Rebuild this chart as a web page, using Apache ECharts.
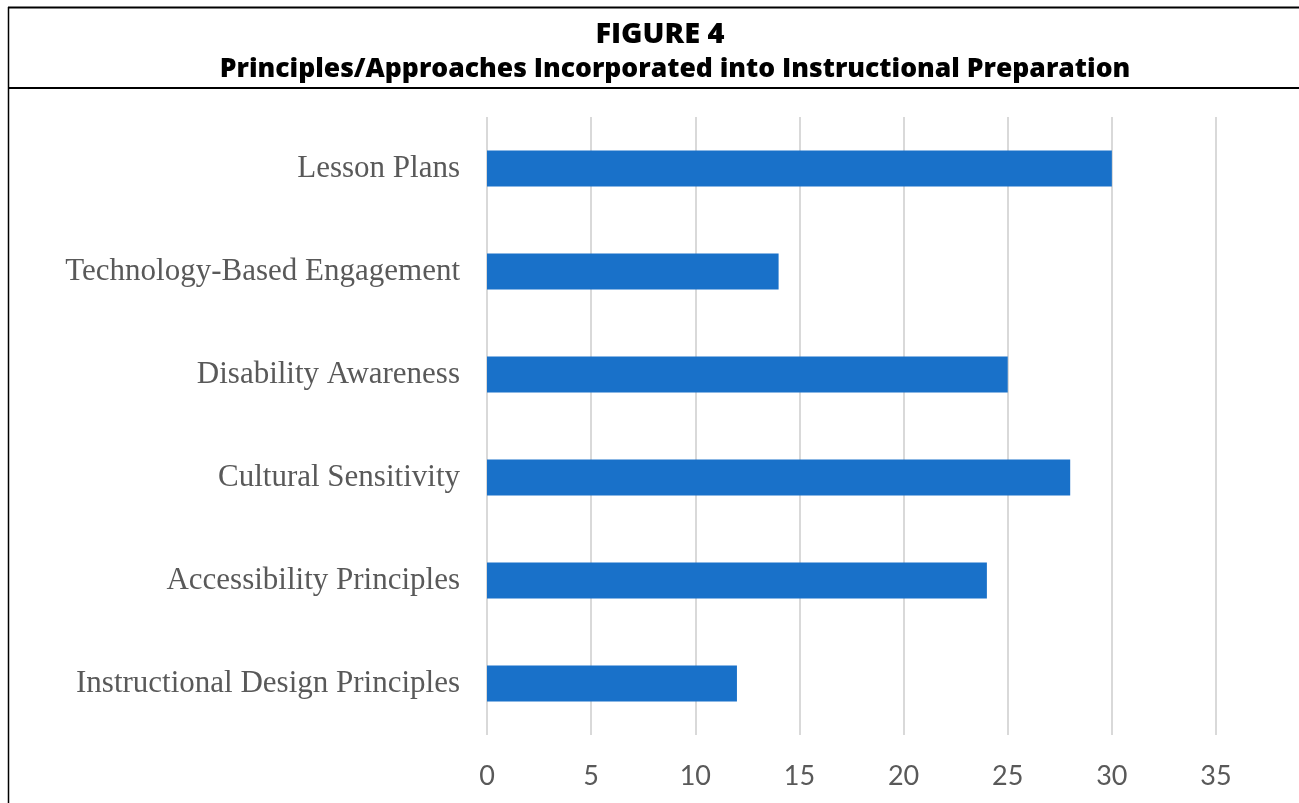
<!DOCTYPE html>
<html>
<head>
<meta charset="utf-8">
<script src="https://cdn.jsdelivr.net/npm/echarts@6/dist/echarts.min.js"></script>
<style>
html,body{margin:0;padding:0;background:#fff;}
#chart{width:1299px;height:803px;}
</style>
</head>
<body>
<div id="chart"></div>
<script>
const categories = [
  "Lesson Plans",
  "Technology-Based Engagement",
  "Disability Awareness",
  "Cultural Sensitivity",
  "Accessibility Principles",
  "Instructional Design Principles"
];
const values = [30, 14, 25, 28, 24, 12];
const titleText = "FIGURE 4";
const subtitleText = "Principles/Approaches Incorporated into Instructional Preparation";

const chart = echarts.init(document.getElementById('chart'), null, {renderer: 'canvas'});
chart.setOption({
  backgroundColor: '#ffffff',
  animation: false,
  title: [
    {text: titleText, left: 655, top: 15, textAlign: 'center',
     textStyle: {fontFamily: 'Open Sans', fontWeight: 800, fontSize: 29, color: '#000'}},
    {text: subtitleText, left: 670, top: 51, textAlign: 'center',
     textStyle: {fontFamily: 'Open Sans', fontWeight: 800, fontSize: 26.5, color: '#000'}}
  ],
  graphic: [
    {type: 'line', shape: {x1: 8, y1: 7.5, x2: 1299, y2: 7.5}, style: {stroke: '#000', lineWidth: 2}},
    {type: 'line', shape: {x1: 8, y1: 88, x2: 1299, y2: 88}, style: {stroke: '#000', lineWidth: 2}},
    {type: 'line', shape: {x1: 8.5, y1: 7, x2: 8.5, y2: 803}, style: {stroke: '#000', lineWidth: 1.5}}
  ],
  grid: {left: 487, right: 83, top: 117, bottom: 68, containLabel: false},
  xAxis: {
    type: 'value', min: 0, max: 35, interval: 5,
    axisLine: {show: false}, axisTick: {show: false},
    splitLine: {show: true, lineStyle: {color: '#d9d9d9', width: 2}},
    axisLabel: {fontFamily: 'Lato', fontSize: 27, color: '#595959', margin: 28}
  },
  yAxis: {
    type: 'category', data: categories, inverse: true,
    axisLine: {show: false}, axisTick: {show: false},
    axisLabel: {fontFamily: 'Liberation Serif', fontSize: 31, color: '#595959', margin: 27}
  },
  series: [{
    type: 'bar', data: values, barWidth: 36,
    itemStyle: {color: '#1971C9'}
  }]
});
</script>
</body>
</html>
